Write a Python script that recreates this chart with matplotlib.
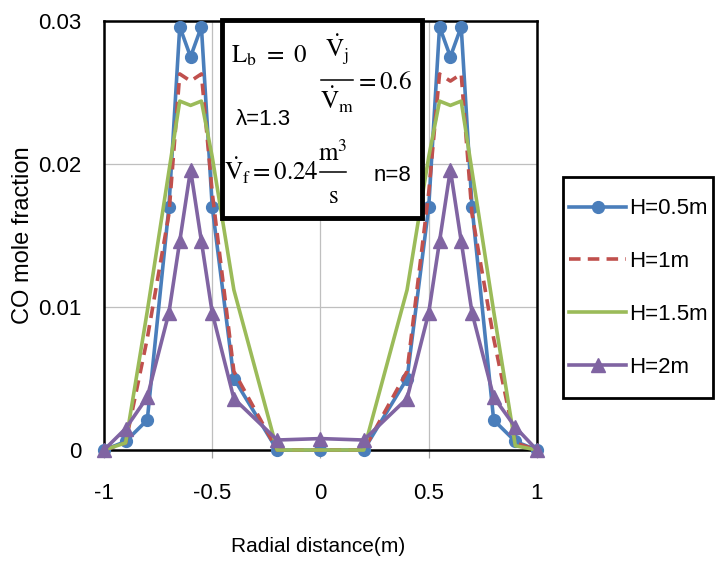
import matplotlib
matplotlib.use("Agg")
import matplotlib.pyplot as plt
from matplotlib.patches import Rectangle
from matplotlib.lines import Line2D

plt.rcParams['font.family'] = ['Liberation Sans', 'DejaVu Sans']
plt.rcParams['mathtext.fontset'] = 'stix'

# radial positions (m)
r = [-1, -0.9, -0.8, -0.7, -0.65, -0.6, -0.55, -0.5, -0.4, -0.2, 0,
     0.2, 0.4, 0.5, 0.55, 0.6, 0.65, 0.7, 0.8, 0.9, 1]

# CO mole fraction at each height
co_h05 = [0, 0.0006, 0.0021, 0.0170, 0.0296, 0.0275, 0.0296, 0.0170, 0.0050, 0, 0,
          0, 0.0050, 0.0170, 0.0296, 0.0275, 0.0296, 0.0170, 0.0021, 0.0006, 0]
co_h1 = [0, 0.0005, 0.0078, 0.0165, 0.0263, 0.0258, 0.0263, 0.0180, 0.0055, 0, 0,
         0, 0.0055, 0.0180, 0.0263, 0.0258, 0.0263, 0.0165, 0.0078, 0.0005, 0]
co_h15 = [0, 0.0005, 0.0097, 0.0195, 0.0244, 0.0241, 0.0244, 0.0205, 0.0112, 0, 0,
          0, 0.0112, 0.0205, 0.0244, 0.0241, 0.0244, 0.0195, 0.0097, 0.0003, 0]
co_h2 = [0, 0.0015, 0.0037, 0.0096, 0.0146, 0.0196, 0.0146, 0.0096, 0.0036, 0.0007, 0.0008,
         0.0007, 0.0036, 0.0096, 0.0146, 0.0196, 0.0146, 0.0096, 0.0037, 0.0016, 0]

labels = ['H=0.5m', 'H=1m', 'H=1.5m', 'H=2m']
xticks = [-1, -0.5, 0, 0.5, 1]
yticks = [0, 0.01, 0.02, 0.03]

fig = plt.figure(figsize=(7.2, 5.65), dpi=100)
ax = fig.add_axes([0.1444, 0.2035, 0.6014, 0.7593])


def px(x, y):
    # pixel position -> figure fraction
    return x / 720, 1 - y / 565


lw = 2.6
ax.plot(r, co_h05, color='#4A7EBB', lw=lw, marker='o', ms=8.5, label=labels[0], clip_on=False, zorder=3)
ax.plot(r, co_h1, color='#C0504D', lw=lw, dashes=(3.2, 2.0), label=labels[1], clip_on=False, zorder=3)
ax.plot(r, co_h15, color='#9BBB59', lw=lw, label=labels[2], clip_on=False, zorder=3)
ax.plot(r, co_h2, color='#8064A2', lw=lw, marker='^', ms=9.5, label=labels[3], clip_on=False, zorder=3)

ax.set_xlim(-1, 1)
ax.set_ylim(0, 0.03)
ax.set_xticks(xticks)
ax.set_xticklabels(['-1', '-0.5', '0', '0.5', '1'])
ax.set_yticks(yticks)
ax.set_yticklabels(['0', '0.01', '0.02', '0.03'])
ax.grid(True, color='#BFBFBF', lw=0.9)
ax.set_axisbelow(True)
for s in ax.spines.values():
    s.set_linewidth(1.8)
    s.set_color('black')
ax.tick_params(axis='x', length=6, width=0.9, color='#A0A0A0', direction='out', pad=18, labelsize=16)
ax.tick_params(axis='y', length=0, pad=16, labelsize=16)

ax.set_xlabel('Radial distance(m)', fontsize=15)
ax.set_ylabel('CO mole fraction', fontsize=17)
ax.xaxis.set_label_coords(0.495, -0.226)
ax.yaxis.set_label_coords(-0.187, 0.5)
ax.xaxis.label.set_va('center')
ax.yaxis.label.set_va('center')

# legend without its own frame; the frame is drawn separately
leg = fig.legend(loc='center', bbox_to_anchor=px(638, 288), fontsize=16, frameon=False,
                 handlelength=2.6, handletextpad=0.1, labelspacing=1.43, borderaxespad=0)
x0, y0 = px(563, 398)
fig.add_artist(Rectangle((x0, y0), 150 / 720, 221 / 565, transform=fig.transFigure,
                         facecolor='none', edgecolor='black', lw=2.0))

# parameter box over the plot
box = Rectangle((0.308, 0.614), 0.278, 0.351, transform=fig.transFigure,
                facecolor='white', edgecolor='black', lw=3.5, zorder=10)
fig.add_artist(box)


def frac_bar(x0, x1, y):
    (a, b), (c, _) = px(x0, y), px(x1, y)
    fig.add_artist(Line2D([a, c], [b, b], transform=fig.transFigure, color='black', lw=1.1, zorder=11))


mfs = 18
kw = dict(fontsize=mfs, va='baseline', zorder=11)
fig.text(*px(231, 62), r'$\mathrm{L_b\ =\ 0}$', ha='left', **kw)
fig.text(*px(337, 58), r'$\dot{\mathrm{V}}_\mathrm{j}$', ha='center', **kw)
frac_bar(321, 353, 80)
fig.text(*px(337, 110), r'$\dot{\mathrm{V}}_\mathrm{m}$', ha='center', **kw)
fig.text(*px(355, 89), r'$=0.6$', ha='left', **kw)
fig.text(*px(236, 125), 'λ=1.3', fontsize=16, ha='left', va='baseline', zorder=11)
fig.text(*px(224, 181), r'$\dot{\mathrm{V}}_\mathrm{f}=0.24$', ha='left', **kw)
fig.text(*px(333, 161), r'$\mathrm{m^3}$', ha='center', **kw)
frac_bar(320, 346, 172)
fig.text(*px(333, 203), r'$\mathrm{s}$', ha='center', **kw)
fig.text(*px(374, 181), 'n=8', fontsize=16, ha='left', va='baseline', zorder=11)

fig.savefig('out.png', dpi=100)
